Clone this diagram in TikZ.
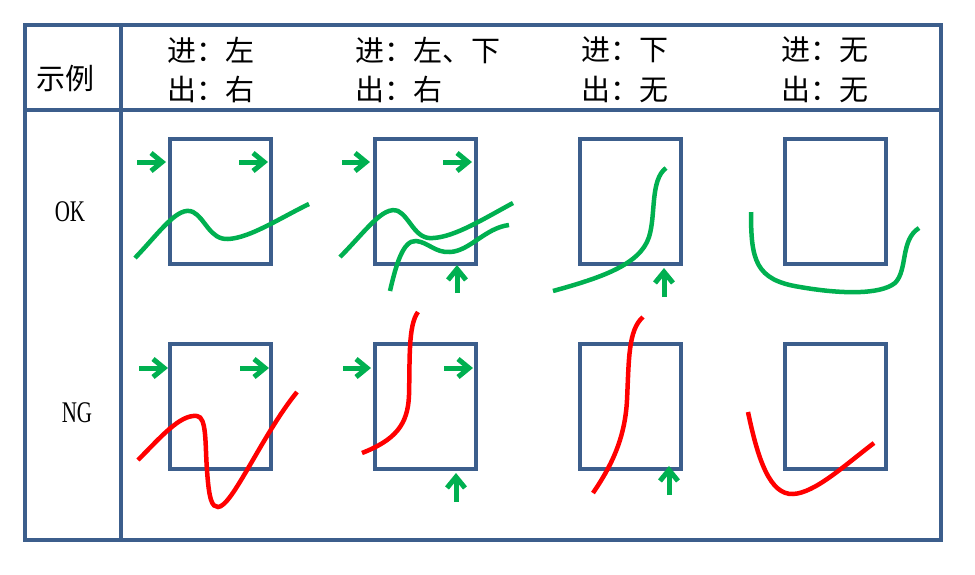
\documentclass[tikz,border=0pt]{standalone}
\usepackage{fontspec}
\setmainfont{Liberation Serif}
\newfontfamily\cjk{Noto Sans CJK SC}
\usetikzlibrary{arrows.meta}
\definecolor{frame}{HTML}{3C5E8C}
\definecolor{okg}{HTML}{00B050}
\definecolor{ngr}{HTML}{FF0000}
\begin{document}
\begin{tikzpicture}[x=1pt,y=-1pt,
  frm/.style={draw=frame,line width=4.5pt},
  boxr/.style={draw=frame,line width=4.5pt},
  garrow/.style={draw=okg,line width=5pt,-{Straight Barb[length=11pt,width=18pt]}},
  okc/.style={draw=okg,line width=4.5pt,line cap=butt},
  ngc/.style={draw=ngr,line width=4.5pt,line cap=butt},
  hdr/.style={font=\cjk\fontsize{29}{29}\selectfont,anchor=west,inner sep=0pt},
  lbl/.style={font=\fontsize{30}{30}\selectfont,xscale=0.7,inner sep=0pt}]
\useasboundingbox (0,0) rectangle (975,574);
% table frame
\draw[frm] (25,25) rectangle (941,540);
\draw[frm] (23,110) -- (943,110);
\draw[frm] (121,23) -- (121,542);
% headers
\node[hdr] (h0) at (36,79) {示例};
\node[hdr] (h1a) at (167,50) {进：左};
\node[hdr] (h1b) at (167,89) {出：右};
\node[hdr] (h2a) at (355,50) {进：左、下};
\node[hdr] (h2b) at (355,89) {出：右};
\node[hdr] (h3a) at (581,50) {进：下};
\node[hdr] (h3b) at (581,89) {出：无};
\node[hdr] (h4a) at (781,50) {进：无};
\node[hdr] (h4b) at (781,89) {出：无};
\node[lbl] (ok) at (70,212) {OK};
\node[lbl] (ng) at (77,413) {NG};
% boxes
\foreach \x in {170,375,580,785}{
  \draw[boxr] (\x,139) rectangle ++(101,125);
  \draw[boxr] (\x,344) rectangle ++(101,125);
}
% green arrows OK row
\draw[garrow] (137,162) -- (166,162);
\draw[garrow] (239,162) -- (268,162);
\draw[garrow] (342,162) -- (370,162);
\draw[garrow] (443,162) -- (472,162);
\draw[garrow] (457,293) -- (457,265);
\draw[garrow] (664,297) -- (664,268);
% green arrows NG row
\draw[garrow] (139,368) -- (168,368);
\draw[garrow] (240,368) -- (269,368);
\draw[garrow] (343,368) -- (371,368);
\draw[garrow] (444,368) -- (473,368);
\draw[garrow] (456,502) -- (456,473);
\draw[garrow] (669,495) -- (669,466);
% OK curves
\draw[okc] (135,258) .. controls (160,232) and (178,205) .. (193,212)
  .. controls (205,218) and (210,240) .. (228,239)
  .. controls (250,238) and (280,218) .. (309,204);
\draw[okc] (340,257) .. controls (365,232) and (383,205) .. (398,211)
  .. controls (410,217) and (415,240) .. (433,238)
  .. controls (455,237) and (485,218) .. (513,203);
\draw[okc] (390,291) .. controls (396,265) and (403,240) .. (416,241)
  .. controls (428,242) and (435,253) .. (450,252)
  .. controls (470,251) and (485,228) .. (509,225);
\draw[okc] (553,291) .. controls (600,278) and (640,265) .. (649,237)
  .. controls (656,215) and (650,180) .. (666,168);
\draw[okc] (751,212) .. controls (751,260) and (755,280) .. (800,287)
  .. controls (840,294) and (880,295) .. (895,283)
  .. controls (908,270) and (900,240) .. (919,228);
% NG curves
\draw[ngc] (138,460) .. controls (160,438) and (180,414) .. (197,416)
  .. controls (207,417) and (205,445) .. (207,470)
  .. controls (209,500) and (212,507) .. (218,507)
  .. controls (232,507) and (262,435) .. (297,392);
\draw[ngc] (362,453) .. controls (395,440) and (408,425) .. (409,395)
  .. controls (410,360) and (408,325) .. (418,312);
\draw[ngc] (593,493) .. controls (610,468) and (625,440) .. (627,400)
  .. controls (629,360) and (628,330) .. (643,317);
\draw[ngc] (748,412) .. controls (758,460) and (770,495) .. (793,494)
  .. controls (815,493) and (845,465) .. (874,443);
\end{tikzpicture}
\end{document}
